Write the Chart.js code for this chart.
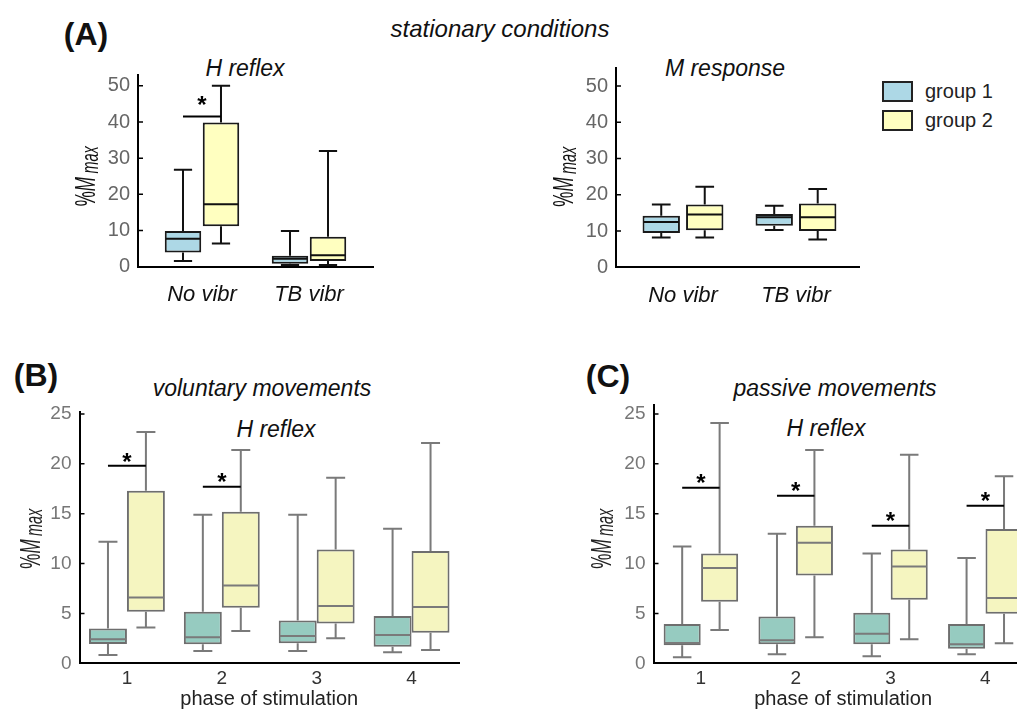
<!DOCTYPE html>
<html>
<head>
    <meta charset="utf-8">
    <title>H reflex and M response</title>
    <script src="https://cdn.jsdelivr.net/npm/chart.js"></script>
    <style>
        html, body {
            margin: 0;
            padding: 0;
            background: #fff;
        }
        body {
            width: 1017px;
            height: 709px;
            position: relative;
            overflow: hidden;
            font-family: "Liberation Sans", Arial, sans-serif;
        }
        canvas {
            position: absolute;
        }
        .lbl {
            position: absolute;
            white-space: nowrap;
            line-height: 1;
            transform: translate(-50%, -50%);
            color: #111;
        }
        .panel {
            font-weight: bold;
            font-size: 32px;
        }
        .head {
            font-style: italic;
            font-size: 24px;
        }
        .sub {
            font-style: italic;
            font-size: 23px;
        }
        #legend {
            position: absolute;
            left: 882px;
            top: 81px;
        }
        .legend-item {
            display: flex;
            align-items: center;
            height: 21px;
            margin-bottom: 8px;
            font-size: 20px;
            color: #222;
        }
        .legend-box {
            width: 27px;
            height: 17px;
            border: 2px solid #222;
            margin-right: 12px;
        }
    </style>
</head>
<body>
    <div class="lbl panel" style="left:86px; top:34px;">(A)</div>
    <div class="lbl head" style="left:500px; top:29px;">stationary conditions</div>
    <div class="lbl sub" style="left:245px; top:68px;">H reflex</div>
    <div class="lbl sub" style="left:725px; top:68px;">M response</div>

    <div class="lbl panel" style="left:36px; top:375px;">(B)</div>
    <div class="lbl sub" style="left:262px; top:388px;">voluntary movements</div>
    <div class="lbl sub" style="left:276px; top:429px;">H reflex</div>

    <div class="lbl panel" style="left:608px; top:376px;">(C)</div>
    <div class="lbl sub" style="left:835px; top:388px;">passive movements</div>
    <div class="lbl sub" style="left:826px; top:428px;">H reflex</div>

    <canvas id="hReflex" width="373" height="277" style="left:20px; top:40px;"></canvas>
    <canvas id="mResponse" width="349" height="282" style="left:530px; top:35px;"></canvas>
    <canvas id="voluntary" width="475" height="331" style="left:0px; top:380px;"></canvas>
    <canvas id="passive" width="480" height="336" style="left:575px; top:375px;"></canvas>
    <div id="legend"></div>

    <script>
        // categories
        const vibrConditions = ['No vibr', 'TB vibr'];
        const phases = ['1', '2', '3', '4'];

        // tick labels
        const stationaryTicks = [0, 10, 20, 30, 40, 50];
        const movementTicks = [0, 5, 10, 15, 20, 25];

        // box stats per category: [min, q1, median, q3, max]  (%Mmax)
        const hReflexGroup1 = [[1.6, 3.9, 7.7, 9.9, 26.8], [0.5, 0.8, 2.2, 3.0, 9.9]];
        const hReflexGroup2 = [[6.4, 11.2, 17.3, 39.9, 50.0], [0.5, 1.6, 3.2, 8.3, 32.0]];
        const hReflexSig = [41.5, null];

        const mResponseGroup1 = [[8.2, 9.5, 12.5, 14.2, 17.3], [10.3, 11.5, 13.8, 14.7, 17.0]];
        const mResponseGroup2 = [[8.2, 10.2, 14.6, 17.3, 22.2], [7.7, 10.0, 13.8, 17.6, 21.6]];
        const mResponseSig = [null, null];

        const voluntaryGroup1 = [[0.84, 1.94, 2.4, 3.5, 12.2], [1.24, 1.9, 2.6, 5.18, 14.9],
                                 [1.24, 2.0, 2.74, 4.28, 14.9], [1.1, 1.67, 2.84, 4.75, 13.5]];
        const voluntaryGroup2 = [[3.58, 5.18, 6.6, 17.3, 23.2], [3.24, 5.58, 7.8, 15.2, 21.4],
                                 [2.5, 4.0, 5.75, 11.4, 18.6], [1.34, 3.07, 5.65, 11.26, 22.1]];
        const voluntarySig = [19.8, 17.7, null, null];

        const passiveGroup1 = [[0.6, 1.8, 2.04, 3.94, 11.7], [0.9, 1.9, 2.3, 4.7, 13.0],
                               [0.7, 1.9, 2.97, 5.08, 11.0], [0.9, 1.47, 1.9, 3.94, 10.56]];
        const passiveGroup2 = [[3.34, 6.18, 9.56, 11.0, 24.1], [2.6, 8.8, 12.1, 13.8, 21.4],
                               [2.4, 6.38, 9.7, 11.4, 20.9], [2.0, 4.98, 6.55, 13.47, 18.75]];
        const passiveSig = [17.6, 16.8, 13.8, 15.8];

        const FONT = '"Liberation Sans", Arial, sans-serif';

        // draws whiskers, medians, significance bars, y title and inward ticks
        function boxDecor(cfg) {
            return {
                id: 'boxDecor',
                afterDatasetsDraw(chart) {
                    const ctx = chart.ctx;
                    const y = chart.scales.y;
                    ctx.save();
                    ctx.lineWidth = 2;
                    ctx.strokeStyle = cfg.lineColor;
                    chart.data.datasets.forEach((ds, di) => {
                        const meta = chart.getDatasetMeta(di);
                        meta.data.forEach((bar, i) => {
                            const s = ds.stats[i];
                            const half = bar.width / 2;
                            const cap = bar.width / 4;
                            const yMin = y.getPixelForValue(s[0]);
                            const yQ1 = y.getPixelForValue(s[1]);
                            const yMed = y.getPixelForValue(s[2]);
                            const yQ3 = y.getPixelForValue(s[3]);
                            const yMax = y.getPixelForValue(s[4]);
                            ctx.beginPath();
                            ctx.moveTo(bar.x, yQ3);
                            ctx.lineTo(bar.x, yMax);
                            ctx.moveTo(bar.x - cap, yMax);
                            ctx.lineTo(bar.x + cap, yMax);
                            ctx.moveTo(bar.x, yQ1);
                            ctx.lineTo(bar.x, yMin);
                            ctx.moveTo(bar.x - cap, yMin);
                            ctx.lineTo(bar.x + cap, yMin);
                            ctx.moveTo(bar.x - half + 1, yMed);
                            ctx.lineTo(bar.x + half - 1, yMed);
                            ctx.stroke();
                        });
                    });

                    // significance lines
                    const m1 = chart.getDatasetMeta(0);
                    const m2 = chart.getDatasetMeta(1);
                    const starSize = 24;
                    ctx.strokeStyle = '#000';
                    ctx.fillStyle = '#000';
                    ctx.font = 'bold ' + starSize + 'px ' + FONT;
                    ctx.textAlign = 'center';
                    ctx.textBaseline = 'alphabetic';
                    cfg.sig.forEach((v, i) => {
                        if (v === null) return;
                        const x1 = m1.data[i].x;
                        const x2 = m2.data[i].x;
                        const yy = y.getPixelForValue(v);
                        ctx.beginPath();
                        ctx.moveTo(x1, yy);
                        ctx.lineTo(x2, yy);
                        ctx.stroke();
                        ctx.fillText('*', (x1 + x2) / 2, yy + 0.57 * starSize - cfg.starGap);
                    });
                    ctx.restore();
                },
                afterDraw(chart) {
                    const ctx = chart.ctx;
                    const y = chart.scales.y;
                    const area = chart.chartArea;
                    ctx.save();
                    // inward tick marks
                    ctx.strokeStyle = '#000';
                    ctx.lineWidth = 1.5;
                    ctx.beginPath();
                    y.ticks.forEach(t => {
                        const yy = y.getPixelForValue(t.value);
                        ctx.moveTo(area.left, yy);
                        ctx.lineTo(area.left + 5, yy);
                    });
                    ctx.stroke();

                    // y title  %M_max
                    const top = cfg.yTicks[cfg.yTicks.length - 1];
                    ctx.translate(area.left - cfg.titleOffset, y.getPixelForValue(top / 2));
                    ctx.rotate(-Math.PI / 2);
                    ctx.scale(0.85, 1.45);
                    const parts = [
                        { t: '%', f: '20px ' + FONT, dy: 0, gap: 0 },
                        { t: 'M', f: 'italic 20px ' + FONT, dy: 0, gap: 4 },
                        { t: 'max', f: 'italic 17px ' + FONT, dy: 2, gap: 0 }
                    ];
                    let total = 0;
                    parts.forEach(p => {
                        ctx.font = p.f;
                        p.w = ctx.measureText(p.t).width;
                        total += p.w + p.gap;
                    });
                    let x = -total / 2;
                    ctx.fillStyle = cfg.titleColor;
                    ctx.textAlign = 'left';
                    ctx.textBaseline = 'alphabetic';
                    parts.forEach(p => {
                        ctx.font = p.f;
                        ctx.fillText(p.t, x, p.dy);
                        x += p.w + p.gap;
                    });
                    ctx.restore();
                }
            };
        }

        function makeBoxChart(id, cfg) {
            const canvas = document.getElementById(id);
            const cx = parseFloat(canvas.style.left);
            const cy = parseFloat(canvas.style.top);
            const yWidth = cfg.plot.l - cx;
            const xHeight = cy + canvas.height - cfg.plot.b;
            const linearX = !!cfg.xRange;

            const datasets = cfg.groups.map(g => ({
                label: g.label,
                data: g.stats.map((s, i) => linearX ? { x: i + 1, y: [s[1], s[3]] } : [s[1], s[3]]),
                stats: g.stats,
                backgroundColor: g.fill,
                borderColor: cfg.edgeColor,
                borderWidth: 2,
                borderSkipped: false,
                categoryPercentage: cfg.catPct,
                barPercentage: cfg.barPct
            }));

            const xBase = {
                grid: { display: false, drawTicks: false },
                border: { display: true, color: '#000', width: 2 },
                ticks: {
                    font: cfg.xFont,
                    color: cfg.xColor,
                    padding: cfg.xPad
                },
                afterFit: s => { s.height = xHeight; }
            };
            let xScale;
            if (linearX) {
                xScale = Object.assign(xBase, {
                    type: 'linear',
                    offset: false,
                    min: cfg.xRange[0],
                    max: cfg.xRange[1],
                    afterBuildTicks: s => { s.ticks = cfg.categories.map((c, i) => ({ value: i + 1 })); }
                });
                xScale.ticks.callback = (v, i) => cfg.categories[i];
            } else {
                xScale = Object.assign(xBase, {
                    type: 'category',
                    offset: true,
                    title: {
                        display: true,
                        text: cfg.xTitle,
                        color: '#222',
                        font: { family: FONT, size: 20 },
                        padding: { top: 0, bottom: 0 }
                    }
                });
            }

            return new Chart(canvas, {
                type: 'bar',
                data: { labels: cfg.categories, datasets: datasets },
                options: {
                    responsive: false,
                    animation: false,
                    events: [],
                    layout: {
                        padding: {
                            left: 0,
                            top: cfg.plot.t - cy,
                            right: cx + canvas.width - cfg.plot.r,
                            bottom: 0
                        }
                    },
                    plugins: {
                        legend: { display: false },
                        tooltip: { enabled: false }
                    },
                    scales: {
                        x: xScale,
                        y: {
                            min: 0,
                            max: cfg.yMax,
                            afterBuildTicks: s => { s.ticks = cfg.yTicks.map(v => ({ value: v })); },
                            grid: { display: false, drawTicks: false },
                            border: { display: true, color: '#000', width: 2 },
                            ticks: {
                                font: { family: FONT, size: cfg.yFontSize },
                                color: cfg.yColor,
                                padding: 8
                            },
                            afterFit: s => { s.width = yWidth; }
                        }
                    }
                },
                plugins: [boxDecor(cfg)]
            });
        }

        const stationaryStyle = {
            edgeColor: '#1a1a1a', lineColor: '#111',
            fill1: '#add8e6', fill2: '#ffffc0',
            xFont: { family: FONT, size: 22, style: 'italic' }, xColor: '#111', xPad: 15,
            yFontSize: 20, yColor: '#666', titleColor: '#111',
            yTicks: stationaryTicks, starGap: 17, titleOffset: 43
        };
        const movementStyle = {
            edgeColor: '#6e6e6e', lineColor: '#7a7a7a',
            fill1: '#96cbc0', fill2: '#f5f5c0',
            xFont: { family: FONT, size: 19 }, xColor: '#333', xPad: 4,
            yFontSize: 19, yColor: '#777', titleColor: '#222',
            yTicks: movementTicks, starGap: 10, xTitle: 'phase of stimulation'
        };

        makeBoxChart('hReflex', Object.assign({}, stationaryStyle, {
            plot: { l: 138, t: 75, r: 373, b: 266.7 },
            categories: vibrConditions, xRange: [0.402, 2.598], yMax: 53,
            catPct: 0.71, barPct: 0.96, sig: hReflexSig,
            groups: [
                { label: 'group 1', stats: hReflexGroup1, fill: stationaryStyle.fill1 },
                { label: 'group 2', stats: hReflexGroup2, fill: stationaryStyle.fill2 }
            ]
        }));

        const mChart = makeBoxChart('mResponse', Object.assign({}, stationaryStyle, {
            plot: { l: 616, t: 68, r: 859, b: 267.3 },
            categories: vibrConditions, xRange: [0.407, 2.558], yMax: 55,
            catPct: 0.77, barPct: 0.86, sig: mResponseSig,
            groups: [
                { label: 'group 1', stats: mResponseGroup1, fill: stationaryStyle.fill1 },
                { label: 'group 2', stats: mResponseGroup2, fill: stationaryStyle.fill2 }
            ]
        }));

        makeBoxChart('voluntary', Object.assign({}, movementStyle, {
            plot: { l: 79.5, t: 412, r: 459, b: 663.3 },
            categories: phases, yMax: 25.2,
            catPct: 0.8, barPct: 1.0, sig: voluntarySig, titleOffset: 40,
            groups: [
                { label: 'group 1', stats: voluntaryGroup1, fill: movementStyle.fill1 },
                { label: 'group 2', stats: voluntaryGroup2, fill: movementStyle.fill2 }
            ]
        }));

        makeBoxChart('passive', Object.assign({}, movementStyle, {
            plot: { l: 653.5, t: 405, r: 1032.7, b: 663.3 },
            categories: phases, yMax: 25.9,
            catPct: 0.79, barPct: 0.99, sig: passiveSig, titleOffset: 43,
            groups: [
                { label: 'group 1', stats: passiveGroup1, fill: movementStyle.fill1 },
                { label: 'group 2', stats: passiveGroup2, fill: movementStyle.fill2 }
            ]
        }));

        // legend built from the M response datasets
        const legendEl = document.getElementById('legend');
        mChart.data.datasets.forEach(ds => {
            const item = document.createElement('div');
            item.className = 'legend-item';
            const box = document.createElement('div');
            box.className = 'legend-box';
            box.style.background = ds.backgroundColor;
            const txt = document.createElement('span');
            txt.textContent = ds.label;
            item.appendChild(box);
            item.appendChild(txt);
            legendEl.appendChild(item);
        });
    </script>
</body>
</html>
